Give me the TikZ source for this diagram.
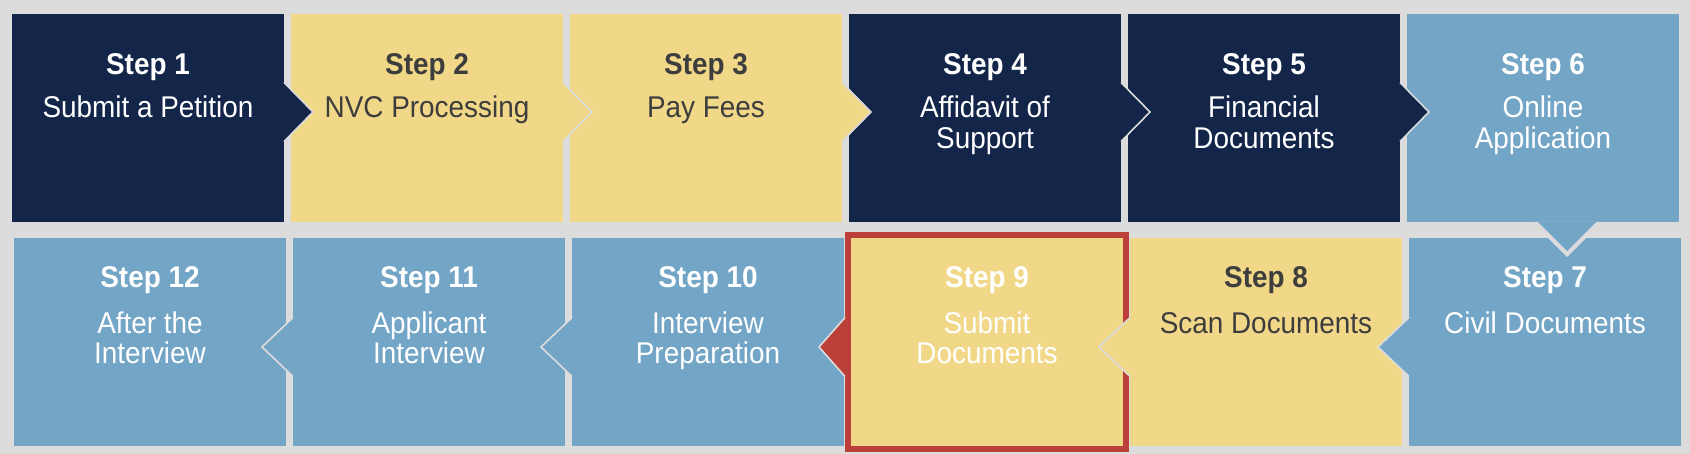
\documentclass[tikz,border=0pt]{standalone}
\usepackage{fontspec}
\setmainfont{Liberation Sans}[FakeStretch=0.93]
\definecolor{bgc}{HTML}{DCDCDC}
\definecolor{navy}{HTML}{13264A}
\definecolor{sand}{HTML}{F0D888}
\definecolor{sky}{HTML}{73A5C6}
\definecolor{brick}{HTML}{BC403A}
\definecolor{ink}{HTML}{3D3D3D}
\begin{document}
\begin{tikzpicture}[x=0.5pt,y=-0.5pt,
 box/.style={rectangle, draw=none, inner sep=0pt, outer sep=0pt, minimum width=136pt, minimum height=104pt},
 hd/.style={anchor=base, inner sep=0pt, align=center, font=\fontsize{15}{15.25}\selectfont\bfseries},
 ds/.style={anchor=base, inner sep=0pt, align=center, font=\fontsize{15}{15.25}\selectfont},
 chev/.style={draw=bgc, line width=0.8pt, line join=miter}]
\fill[bgc] (0,0) rectangle (1690,454);
\useasboundingbox (0,0) rectangle (1690,454);
% row 1
\node[box, fill=navy] (b1) at (148,118) {};
\node[box, fill=sand] (b2) at (427,118) {};
\node[box, fill=sand] (b3) at (706,118) {};
\node[box, fill=navy] (b4) at (985,118) {};
\node[box, fill=navy] (b5) at (1264,118) {};
\node[box, fill=sky]  (b6) at (1543,118) {};
% row 2
\node[box, fill=sky]  (b12) at (150,342) {};
\node[box, fill=sky]  (b11) at (429,342) {};
\node[box, fill=sky]  (b10) at (708,342) {};
\node[box, fill=sand] (b9)  at (987,342) {};
\node[box, fill=sand] (b8)  at (1266,342) {};
\node[box, fill=sky]  (b7)  at (1545,342) {};
% highlight border
\draw[brick, line width=3pt] ([shift={(-3,-3)}]b9.north west) rectangle ([shift={(3,3)}]b9.south east);
% row 1 chevrons
\filldraw[chev, fill=navy] ([shift={(0,-35.5)}]b1.east) -- ([shift={(29,-6)}]b1.east) -- ([shift={(0,23.5)}]b1.east);
\filldraw[chev, fill=sand] ([shift={(0,-35.5)}]b2.east) -- ([shift={(29,-6)}]b2.east) -- ([shift={(0,23.5)}]b2.east);
\filldraw[chev, fill=sand] ([shift={(0,-35.5)}]b3.east) -- ([shift={(29,-6)}]b3.east) -- ([shift={(0,23.5)}]b3.east);
\filldraw[chev, fill=navy] ([shift={(0,-35.5)}]b4.east) -- ([shift={(29,-6)}]b4.east) -- ([shift={(0,23.5)}]b4.east);
\filldraw[chev, fill=navy] ([shift={(0,-35.5)}]b5.east) -- ([shift={(29,-6)}]b5.east) -- ([shift={(0,23.5)}]b5.east);
% down chevron
\fill[bgc] ([shift={(-11,0)}]b6.south) -- ([shift={(24,35)}]b6.south) -- ([shift={(59,0)}]b6.south) -- cycle;
\fill[sky] ([shift={(-5,0)}]b6.south) -- ([shift={(24,29)}]b6.south) -- ([shift={(53,0)}]b6.south) -- cycle;
% row 2 chevrons (pointing left)
\filldraw[chev, fill=sky]  ([shift={(0,-24.5)}]b7.west) -- ([shift={(-31,5)}]b7.west) -- ([shift={(0,34.5)}]b7.west);
\filldraw[chev, fill=sand] ([shift={(0,-24.5)}]b8.west) -- ([shift={(-31,5)}]b8.west) -- ([shift={(0,34.5)}]b8.west);
\filldraw[chev, fill=brick] ([shift={(-6,-24.5)}]b9.west) -- ([shift={(-32,5)}]b9.west) -- ([shift={(-6,34.5)}]b9.west);
\filldraw[chev, fill=sky]  ([shift={(0,-24.5)}]b10.west) -- ([shift={(-31,5)}]b10.west) -- ([shift={(0,34.5)}]b10.west);
\filldraw[chev, fill=sky]  ([shift={(0,-24.5)}]b11.west) -- ([shift={(-31,5)}]b11.west) -- ([shift={(0,34.5)}]b11.west);
% labels row 1
\node[hd, text=white] (h1) at ([shift={(0,-43)}]b1.center) {Step 1};
\node[ds, text=white] (d1) at (b1.center) {Submit a Petition};
\node[hd, text=ink] (h2) at ([shift={(0,-43)}]b2.center) {Step 2};
\node[ds, text=ink] (d2) at (b2.center) {NVC Processing};
\node[hd, text=ink] (h3) at ([shift={(0,-43)}]b3.center) {Step 3};
\node[ds, text=ink] (d3) at (b3.center) {Pay Fees};
\node[hd, text=white] (h4) at ([shift={(0,-43)}]b4.center) {Step 4};
\node[ds, text=white] (d4) at ([shift={(0,30.5)}]b4.center) {Affidavit of\\Support};
\node[hd, text=white] (h5) at ([shift={(0,-43)}]b5.center) {Step 5};
\node[ds, text=white] (d5) at ([shift={(0,30.5)}]b5.center) {Financial\\Documents};
\node[hd, text=white] (h6) at ([shift={(0,-43)}]b6.center) {Step 6};
\node[ds, text=white] (d6) at ([shift={(0,30.5)}]b6.center) {Online\\Application};
% labels row 2
\node[hd, text=white] (h7) at ([shift={(0,-55)}]b7.center) {Step 7};
\node[ds, text=white] (d7) at ([shift={(0,-9)}]b7.center) {Civil Documents};
\node[hd, text=ink] (h8) at ([shift={(0,-55)}]b8.center) {Step 8};
\node[ds, text=ink] (d8) at ([shift={(0,-9)}]b8.center) {Scan Documents};
\node[hd, text=white] (h9) at ([shift={(0,-55)}]b9.center) {Step 9};
\node[ds, text=white] (d9) at ([shift={(0,21.5)}]b9.center) {Submit\\Documents};
\node[hd, text=white] (h10) at ([shift={(0,-55)}]b10.center) {Step 10};
\node[ds, text=white] (d10) at ([shift={(0,21.5)}]b10.center) {Interview\\Preparation};
\node[hd, text=white] (h11) at ([shift={(0,-55)}]b11.center) {Step 11};
\node[ds, text=white] (d11) at ([shift={(0,21.5)}]b11.center) {Applicant\\Interview};
\node[hd, text=white] (h12) at ([shift={(0,-55)}]b12.center) {Step 12};
\node[ds, text=white] (d12) at ([shift={(0,21.5)}]b12.center) {After the\\Interview};
\end{tikzpicture}
\end{document}
